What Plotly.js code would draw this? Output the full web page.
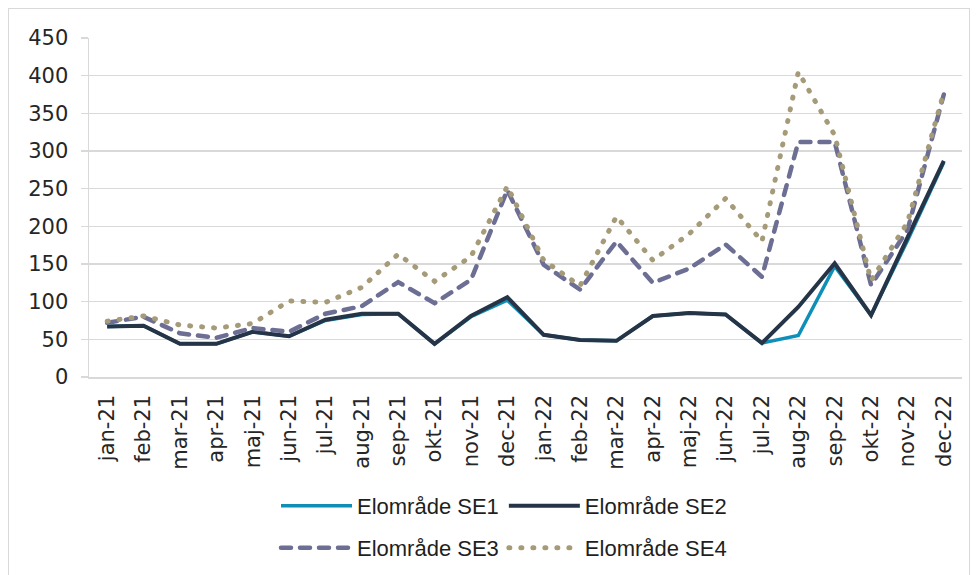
<!DOCTYPE html>
<html>
<head>
<meta charset="utf-8">
<script src="https://cdn.plot.ly/plotly-3.0.1.min.js"></script>
<style>
  html, body { margin: 0; padding: 0; background: #ffffff; }
  #frame { position: absolute; left: 8px; top: 8px; width: 962px; height: 580px; border: 1px solid #d9d9d9; box-sizing: border-box; }
  #chart { position: absolute; left: 0; top: 0; width: 979px; height: 575px; }
</style>
</head>
<body>
<div id="frame"></div>
<div id="chart"></div>
<script>
const months = ["jan-21","feb-21","mar-21","apr-21","maj-21","jun-21","jul-21","aug-21","sep-21","okt-21","nov-21","dec-21",
                "jan-22","feb-22","mar-22","apr-22","maj-22","jun-22","jul-22","aug-22","sep-22","okt-22","nov-22","dec-22"];
const se1 = [67, 68, 44, 44, 60, 54, 75, 83, 84, 44, 80, 102, 56, 49, 48, 81, 85, 83, 45, 55, 147, 82, 181, 285];
const se2 = [67, 68, 44, 44, 60, 54, 76, 84, 84, 44, 81, 106, 56, 49, 48, 81, 85, 83, 45, 93, 151, 82, 185, 287];
const se3 = [72, 80, 58, 52, 65, 60, 84, 94, 126, 98, 129, 248, 149, 116, 180, 125, 144, 176, 133, 312, 312, 122, 195, 375];
const se4 = [74, 81, 69, 65, 71, 101, 99, 119, 163, 127, 160, 253, 155, 121, 213, 155, 190, 237, 180, 405, 321, 128, 205, 378];
const names = ["Elområde SE1","Elområde SE2","Elområde SE3","Elområde SE4"];

const legFont = {family: "Liberation Sans, Arial, sans-serif", size: 22, color: "#1f1f1f"};

const data = [
  {x: months, y: se1, name: names[0], type: "scatter", mode: "lines", line: {color: "#0E8FB8", width: 3.5}, legend: "legend"},
  {x: months, y: se2, name: names[1], type: "scatter", mode: "lines", line: {color: "#253446", width: 4}, legend: "legend"},
  {x: months, y: se3, name: names[2], type: "scatter", mode: "lines", line: {color: "#6C6E93", width: 4.5, dash: "10px,9px"}, legend: "legend2"},
  {x: months, y: se4, name: names[3], type: "scatter", mode: "lines", line: {color: "#A69B78", width: 5, dash: "1px,11px"}, legend: "legend2"}
];

const legendCommon = {orientation: "h", x: 0.2142, xanchor: "left", yref: "container", yanchor: "middle",
                      font: legFont, bgcolor: "rgba(0,0,0,0)", traceorder: "normal", itemwidth: 71};

const layout = {
  width: 979, height: 575,
  margin: {l: 89, r: 17, t: 38, b: 198, autoexpand: false},
  paper_bgcolor: "rgba(0,0,0,0)",
  plot_bgcolor: "#ffffff",
  font: {family: "DejaVu Sans, sans-serif", color: "#262626"},
  hovermode: false,
  xaxis: {
    type: "category",
    tickangle: -90,
    tickfont: {family: "DejaVu Sans, sans-serif", size: 21, color: "#262626"},
    showgrid: false,
    showline: true, linecolor: "#d9d9d9", linewidth: 1.5,
    ticks: "", ticklabelstandoff: 8,
    range: [-0.5, 23.5],
    automargin: false
  },
  yaxis: {
    range: [0, 450], dtick: 50,
    tickfont: {family: "DejaVu Sans, sans-serif", size: 21, color: "#262626"},
    gridcolor: "#d9d9d9", gridwidth: 1.5,
    showline: true, linecolor: "#d9d9d9", linewidth: 1.5,
    ticks: "outside", ticklen: 7, tickcolor: "#d9d9d9", tickwidth: 1.5,
    ticklabelstandoff: 8,
    zeroline: false,
    automargin: false
  },
  legend: Object.assign({}, legendCommon, {y: 0.12}),
  legend2: Object.assign({}, legendCommon, {y: 0.047})
};

function roundCaps() {
  document.querySelectorAll("#chart path.js-line").forEach(function (p) {
    const da = p.style.strokeDasharray;
    if (da && da !== "none" && da !== "") {
      p.style.strokeLinecap = "round";
      p.setAttribute("stroke-linecap", "round");
    }
  });
}

Plotly.newPlot("chart", data, layout, {staticPlot: true, displayModeBar: false}).then(function () {
  roundCaps();
  setTimeout(roundCaps, 30);
  setTimeout(roundCaps, 200);
});
</script>
</body>
</html>
